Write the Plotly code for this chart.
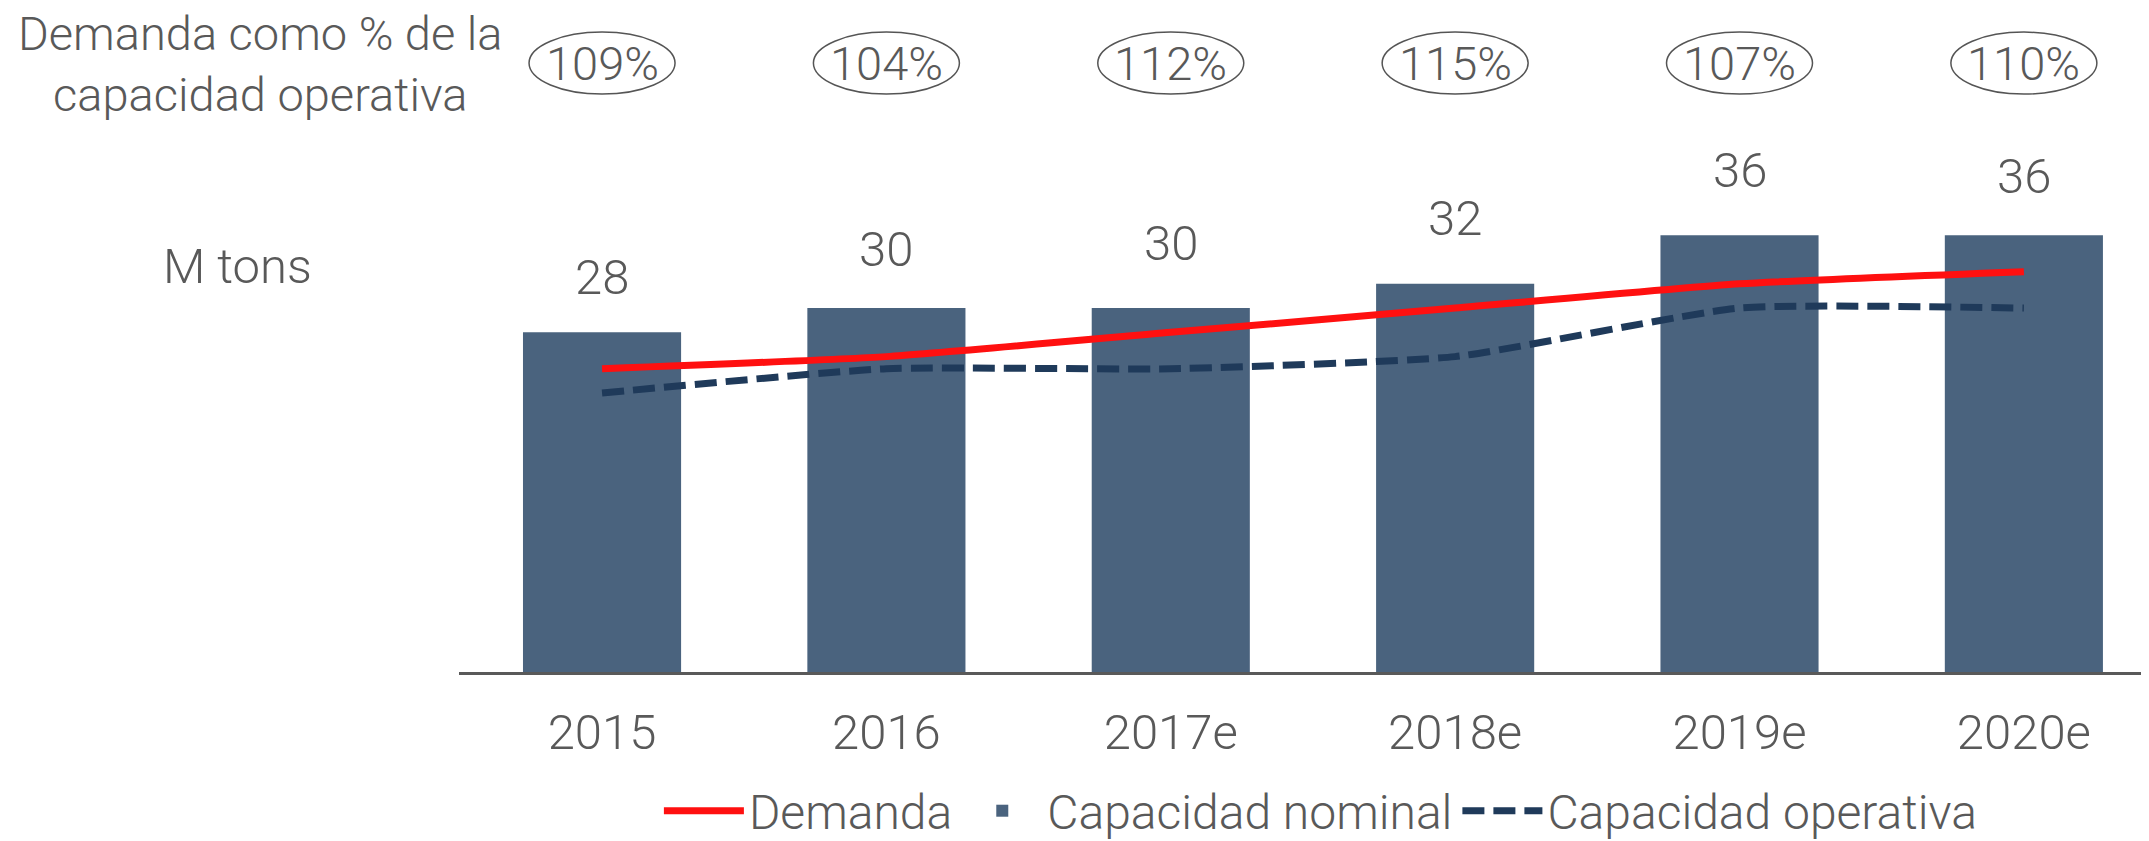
import plotly.graph_objects as go

# ---- data ----
years = ["2015", "2016", "2017e", "2018e", "2019e", "2020e"]
capacidad_nominal = [28, 30, 30, 32, 36, 36]
demanda = [25, 26, 28, 30, 32, 33]
capacidad_operativa = [23, 25, 25, 26, 30, 30]
pct_labels = ["109%", "104%", "112%", "115%", "107%", "110%"]

# ---- style ----
FONT = "Roboto"
TXT = "#595959"
BAR = "#4A637E"
RED = "#FF1010"
NAVY = "#1F3A5A"
FS = 49
label_shift = [55, 59, 65, 65, 65, 59]

# page body has an 8px margin: figure is sized to fit the window
W, H = 2141, 833
PLOT_H = 664
PX_PER_UNIT = 12.13


def f(size):
    return dict(family=FONT, size=size, color=TXT, weight=300)


fig = go.Figure()
fig.add_trace(go.Bar(
    x=years, y=capacidad_nominal, name="Capacidad nominal",
    marker=dict(color=BAR, line=dict(width=0)), legendrank=2,
))
fig.add_trace(go.Scatter(
    x=years, y=capacidad_operativa, name="Capacidad operativa", mode="lines",
    line=dict(color=NAVY, width=7, dash="22px,9px", shape="spline", smoothing=0.5),
    legendrank=3,
))
fig.add_trace(go.Scatter(
    x=years, y=demanda, name="Demanda", mode="lines",
    line=dict(color=RED, width=7, shape="spline", smoothing=0.5),
    legendrank=1,
))

annotations = []
for i, v in enumerate(capacidad_nominal):
    annotations.append(dict(
        x=i, y=v, xref="x", yref="y", text=str(v), showarrow=False,
        yanchor="middle", yshift=label_shift[i], font=f(FS),
    ))

shapes = []
for i, p in enumerate(pct_labels):
    annotations.append(dict(
        x=i, y=0.917, xref="x", yref="paper", text=p, showarrow=False,
        yanchor="middle", font=f(47),
    ))
    shapes.append(dict(
        type="circle", xref="x", yref="paper", xsizemode="pixel", ysizemode="pixel",
        xanchor=i, yanchor=0.917, x0=-73, x1=73, y0=-31, y1=31,
        line=dict(color="#555555", width=1.5), fillcolor="rgba(0,0,0,0)", layer="above",
    ))

annotations.append(dict(
    x=-0.118, y=0.916, xref="paper", yref="paper", showarrow=False,
    text="Demanda como % de la<br>capacidad operativa", align="center",
    xanchor="center", yanchor="middle", font=f(47),
))
annotations.append(dict(
    x=-0.131, y=0.610, xref="paper", yref="paper", showarrow=False,
    text="M tons", xanchor="center", yanchor="middle", font=f(FS),
))

fig.update_layout(
    width=W, height=H,
    margin=dict(l=451, r=0, t=0, b=H - PLOT_H),
    paper_bgcolor="white", plot_bgcolor="white",
    font=f(FS),
    bargap=0.444,
    showlegend=True,
    legend=dict(orientation="h", x=0.51, xanchor="center",
                yref="container", y=0.036, yanchor="middle",
                font=f(48), itemwidth=80, bgcolor="rgba(0,0,0,0)"),
    xaxis=dict(
        type="category", range=[-0.503, 5.44], automargin=False,
        showline=True, linecolor="#595959", linewidth=3,
        ticks="outside", ticklen=15, tickcolor="rgba(0,0,0,0)",
        showgrid=False, zeroline=False, tickfont=f(FS),
    ),
    yaxis=dict(range=[0, PLOT_H / PX_PER_UNIT], visible=False, showgrid=False,
               zeroline=False, automargin=False),
    annotations=annotations,
    shapes=shapes,
)

fig.write_html("out.html")
